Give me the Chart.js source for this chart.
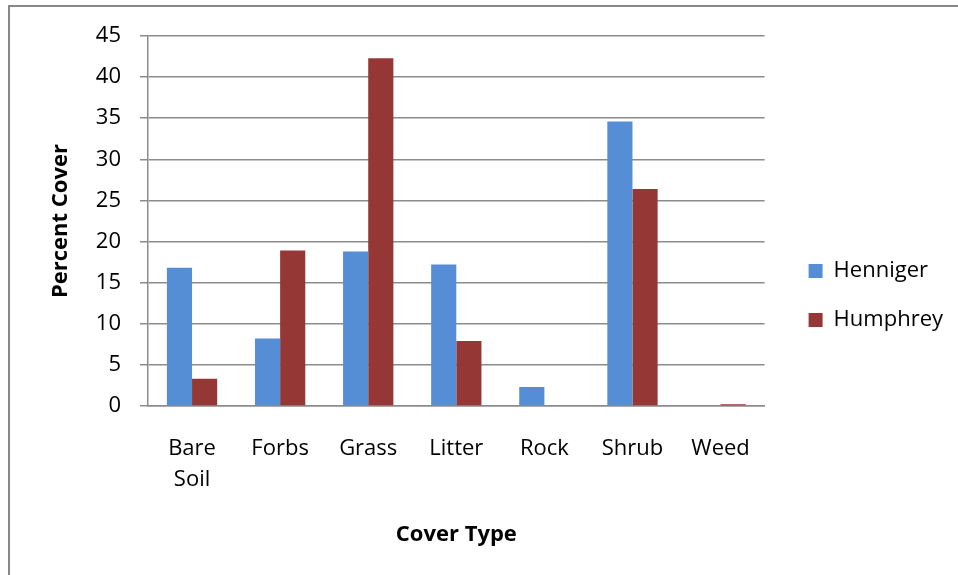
<!DOCTYPE html>
<html>
<head>
<meta charset="utf-8">
<script src="https://cdn.jsdelivr.net/npm/chart.js@4"></script>
<style>
  html, body { margin: 0; padding: 0; background: #fff; overflow: hidden; }
  #frame { position: absolute; left: 8px; top: 5px; width: 1000px; height: 700px;
           border-top: 2px solid #878787; border-left: 2px solid #878787; }
  #wrap { position: absolute; left: 0; top: 0; width: 958px; height: 575px; }
</style>
</head>
<body>
<div id="frame"></div>
<div id="wrap"><canvas id="myChart"></canvas></div>
<script>
const categories = [["Bare", "Soil"], "Forbs", "Grass", "Litter", "Rock", "Shrub", "Weed"]
const henniger = [16.8, 8.2, 18.8, 17.2, 2.3, 34.6, 0]
const humphrey = [3.3, 18.9, 42.3, 7.9, 0, 26.4, 0.2]
const yTicks = [0, 5, 10, 15, 20, 25, 30, 35, 40, 45]

const font = "'Open Sans', sans-serif"
const gridColor = "#8c8c8c"

const ctx = document.getElementById("myChart").getContext("2d")

new Chart(ctx, {
    type: "bar",
    data: {
        labels: categories,
        datasets: [{
            label: "Henniger",
            data: henniger,
            backgroundColor: "#558ed5"
        }, {
            label: "Humphrey",
            data: humphrey,
            backgroundColor: "#953735"
        }]
    },
    options: {
        responsive: true,
        maintainAspectRatio: false,
        animation: false,
        devicePixelRatio: 1,
        layout: { padding: { left: 20, right: 5, top: 36, bottom: 20 } },
        datasets: { bar: { categoryPercentage: 0.571, barPercentage: 1 } },
        plugins: {
            tooltip: { enabled: false },
            legend: {
                position: "right",
                maxWidth: 260,
                labels: {
                    boxWidth: 14, boxHeight: 14, padding: 27,
                    color: "#000", font: { family: font, size: 22 }
                }
            }
        },
        scales: {
            x: {
                grid: { display: false, drawTicks: false },
                border: { display: true, color: gridColor, width: 1.5 },
                ticks: { color: "#000", padding: 27, font: { family: font, size: 22, lineHeight: 1.41 }, maxRotation: 0 },
                title: {
                    display: true, text: "Cover Type", color: "#000",
                    font: { family: font, size: 22, weight: "bold", lineHeight: 1.2 },
                    padding: { top: 20, bottom: 7 }
                },
                afterFit: axis => { axis.height = 149 }
            },
            y: {
                min: 0, max: 45,
                afterBuildTicks: axis => { axis.ticks = yTicks.map(v => ({ value: v })) },
                grid: { color: gridColor, lineWidth: 1.5, tickLength: 8 },
                border: { display: true, color: gridColor, width: 1.5 },
                ticks: { color: "#000", padding: 19, font: { family: font, size: 22 } },
                title: {
                    display: true, text: "Percent Cover", color: "#000",
                    font: { family: font, size: 22, weight: "bold", lineHeight: 1.2 },
                    padding: { top: 28, bottom: 20 }
                },
                afterFit: axis => { axis.width = 128 }
            },
            gap: {
                position: "right",
                display: true,
                grid: { display: false, drawTicks: false },
                border: { display: false },
                ticks: { display: false },
                afterFit: axis => { axis.width = 17 }
            }
        }
    }
})
</script>
</body>
</html>
